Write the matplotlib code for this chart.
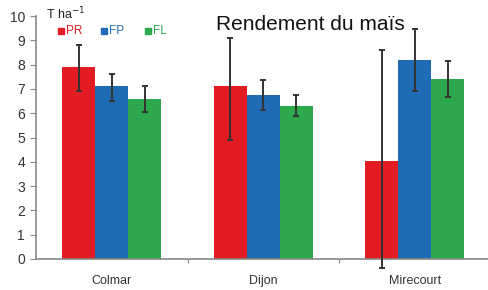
import matplotlib
matplotlib.use("Agg")
import matplotlib.pyplot as plt
import numpy as np

plt.rcParams['font.family'] = ['Liberation Sans', 'DejaVu Sans']

# Rendement du maïs par site et système
sites = ["Colmar", "Dijon", "Mirecourt"]
series = ["PR", "FP", "FL"]
colors = ["#e31b23", "#1f6cb4", "#2ea84c"]

pr = [7.9, 7.1, 4.05]
fp = [7.1, 6.75, 8.2]
fl = [6.6, 6.3, 7.4]

pr_low = [6.9, 4.9, -0.35]
pr_high = [8.8, 9.1, 8.6]
fp_low = [6.5, 6.15, 6.9]
fp_high = [7.6, 7.35, 9.45]
fl_low = [6.05, 5.9, 6.65]
fl_high = [7.1, 6.75, 8.15]

values = [pr, fp, fl]
lows = [pr_low, fp_low, fl_low]
highs = [pr_high, fp_high, fl_high]

fig = plt.figure(figsize=(4.89, 2.90), dpi=100)
ax = fig.add_axes([36/489, 31/290, 1 - 36/489, (259-16)/290])

x = np.arange(len(sites))
w = 0.218
for i, (vals, lo, hi, c) in enumerate(zip(values, lows, highs, colors)):
    vals = np.array(vals)
    err = [vals - np.array(lo), np.array(hi) - vals]
    ax.bar(x + (i-1)*w, vals, w, color=c, zorder=2)
    ax.errorbar(x + (i-1)*w, vals, yerr=err, fmt="none", ecolor="#333333",
                elinewidth=1.4, capsize=2.5, capthick=1.4, zorder=3, clip_on=False)

ax.set_xlim(-0.5, 2.49)
ax.set_ylim(0, 10)
ax.set_yticks(range(11))
ax.set_xticks([0.5, 1.5])
ax.set_xticklabels([])
ax.tick_params(axis="x", length=3, color="#888888", direction="out")
for xi, s in zip(x, sites):
    ax.text(xi, -0.92, s, ha="center", va="center", fontsize=9, color="#333333")
ax.tick_params(axis="y", length=4, color="#888888", labelsize=10, labelcolor="#333333", pad=4)
for sp in ["top", "right"]:
    ax.spines[sp].set_visible(False)
for sp in ["left", "bottom"]:
    ax.spines[sp].set_color("#888888")
    ax.spines[sp].set_linewidth(1.2)

fig.text(310/489, 1 - 25/290, "Rendement du maïs", ha="center", va="center",
         fontsize=15, color="#111111")
fig.text(46/489, 1 - 14/290, "T ha$^{-1}$", ha="left", va="center", fontsize=9, color="#222222")

# legend
lx = [58, 101, 145]
for px, lab, c in zip(lx, series, colors):
    fig.patches.append(plt.Rectangle((px/489, 1 - 34/290), 6/489, 6/290,
                                     transform=fig.transFigure, color=c, figure=fig))
    fig.text((px + 8)/489, 1 - 31/290, lab, ha="left", va="center", fontsize=8.5,
             color=c)

fig.savefig("out.png", dpi=100)
